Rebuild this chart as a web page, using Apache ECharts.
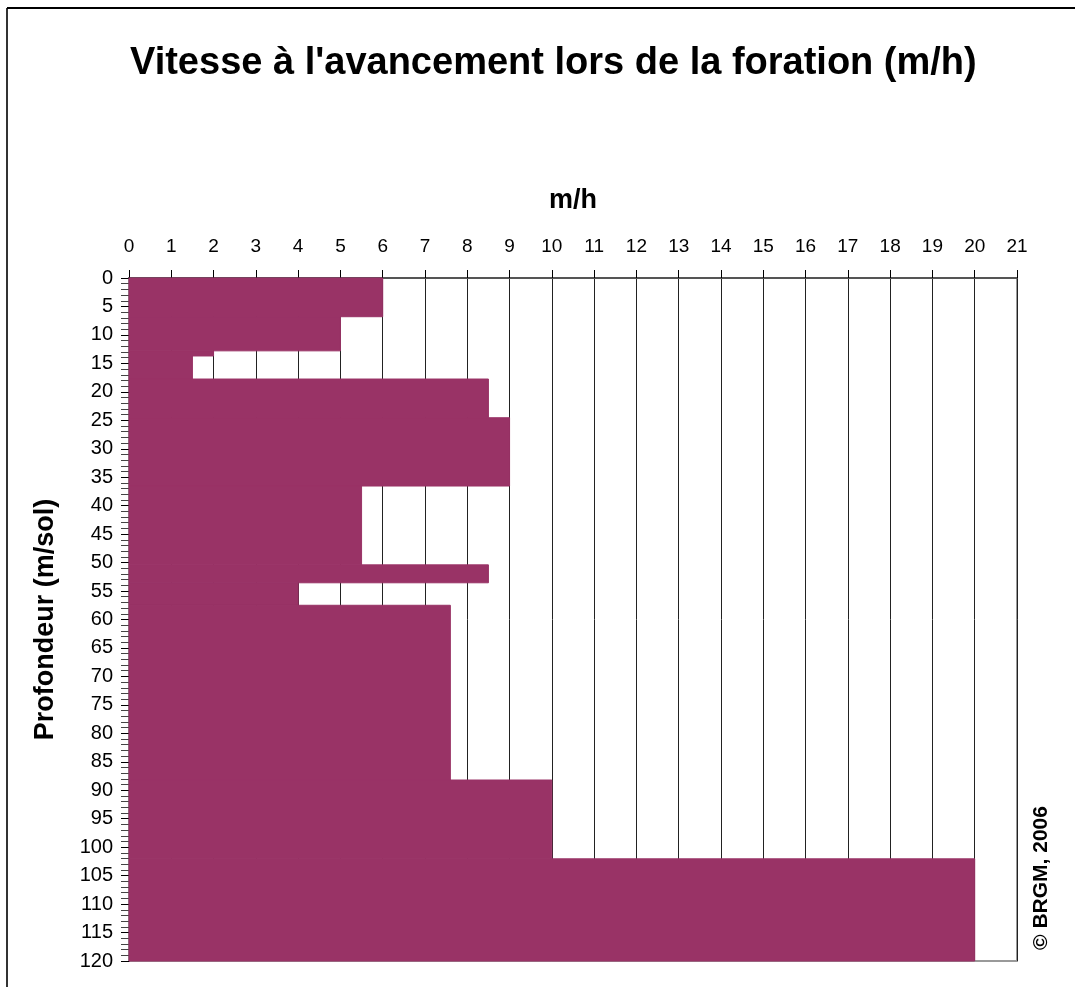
<!DOCTYPE html>
<html>
<head>
<meta charset="utf-8">
<title>Vitesse à l'avancement</title>
<script src="https://cdn.jsdelivr.net/npm/echarts@6/dist/echarts.min.js"></script>
<style>
  html, body { margin: 0; padding: 0; background: #fff; }
  #chart { width: 1075px; height: 987px; }
</style>
</head>
<body>
<div id="chart"></div>
<script>
// tranches de profondeur (m/sol) et vitesse d'avancement (m/h)
const depthFrom = [0, 6.8, 12.8, 13.7, 17.75, 24.55, 36.55, 50.4, 53.55, 57.5, 88.2, 102.05];
const depthTo   = [6.8, 12.8, 13.7, 17.75, 24.55, 36.55, 50.4, 53.55, 57.5, 88.2, 102.05, 120];
const speed     = [6, 5, 2, 1.5, 8.5, 9, 5.5, 8.5, 4, 7.6, 10, 20];

const speedMax = 21;
const depthMax = 120;

const font = "'Liberation Sans', Arial, Helvetica, sans-serif";

const chart = echarts.init(document.getElementById('chart'));

const rows = speed.map((v, i) => [depthFrom[i], depthTo[i], v]);

chart.setOption({
  backgroundColor: '#fff',
  animation: false,
  title: {
    text: "Vitesse à l'avancement lors de la foration (m/h)",
    left: 125,
    top: 40,
    textStyle: { fontFamily: font, fontSize: 38, fontWeight: 'bold', color: '#000' }
  },
  grid: {
    left: 129, top: 278, right: 58, bottom: 26,
    show: true,
    borderColor: '#999',
    borderWidth: 2
  },
  xAxis: {
    type: 'value',
    position: 'top',
    min: 0,
    max: speedMax,
    interval: 1,
    name: 'm/h',
    nameLocation: 'middle',
    nameGap: 64,
    nameTextStyle: { fontFamily: font, fontSize: 27, fontWeight: 'bold', color: '#000' },
    axisLine: { show: true, lineStyle: { color: '#555', width: 2 } },
    axisTick: { show: true, length: 8, lineStyle: { color: '#000' } },
    axisLabel: { fontFamily: font, fontSize: 19, color: '#000', margin: 22 },
    splitLine: { show: true, lineStyle: { color: '#222', width: 1 } }
  },
  yAxis: {
    type: 'value',
    inverse: true,
    min: 0,
    max: depthMax,
    interval: 5,
    name: 'Profondeur (m/sol)',
    nameLocation: 'middle',
    nameGap: 70,
    nameTextStyle: { fontFamily: font, fontSize: 27, fontWeight: 'bold', color: '#000' },
    axisLine: { show: true, lineStyle: { color: '#000', width: 1 } },
    axisTick: { show: true, length: 8, lineStyle: { color: '#000' } },
    minorTick: { show: true, splitNumber: 5, length: 8, lineStyle: { color: '#444' } },
    axisLabel: { fontFamily: font, fontSize: 20, color: '#000', margin: 16 },
    splitLine: { show: false }
  },
  series: [{
    type: 'custom',
    data: rows,
    encode: { x: 2, y: [0, 1] },
    renderItem: (params, api) => {
      const p0 = api.coord([0, api.value(0)]);
      const p1 = api.coord([api.value(2), api.value(1)]);
      return {
        type: 'rect',
        shape: { x: p0[0], y: p0[1], width: p1[0] - p0[0], height: p1[1] - p0[1] },
        style: { fill: '#993366', stroke: '#993366', lineWidth: 1 }
      };
    }
  }],
  graphic: [
    {
      type: 'line',
      shape: { x1: 7, y1: 8, x2: 7, y2: 987 },
      style: { stroke: '#333', lineWidth: 2 }
    },
    {
      type: 'line',
      shape: { x1: 7, y1: 8, x2: 1075, y2: 8 },
      style: { stroke: '#000', lineWidth: 2 }
    },
    {
      type: 'text',
      x: 1041,
      y: 878,
      rotation: Math.PI / 2,
      style: {
        text: '© BRGM, 2006',
        fontFamily: font,
        fontSize: 21,
        fontWeight: 'bold',
        fill: '#000',
        align: 'center',
        verticalAlign: 'middle'
      }
    }
  ]
});
</script>
</body>
</html>
